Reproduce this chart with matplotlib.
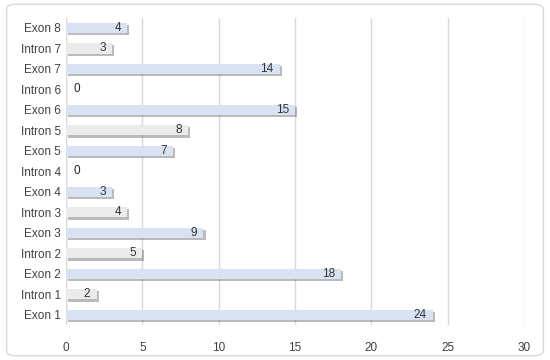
import matplotlib.pyplot as plt
import matplotlib.patheffects as pe
from matplotlib.patches import FancyBboxPatch

regions = ['Exon 1', 'Intron 1', 'Exon 2', 'Intron 2', 'Exon 3', 'Intron 3', 'Exon 4',
           'Intron 4', 'Exon 5', 'Intron 5', 'Exon 6', 'Intron 6', 'Exon 7', 'Intron 7', 'Exon 8']
counts = [24, 2, 18, 5, 9, 4, 3, 0, 7, 8, 15, 0, 14, 3, 4]

plt.rcParams['font.family'] = ['Liberation Sans', 'DejaVu Sans']

fig = plt.figure(figsize=(5.5, 3.6), dpi=100)
ax = fig.add_axes([0.12, 0.097, 0.833, 0.854])

colors = ['#d9e2f3' if r.startswith('Exon') else '#ebebeb' for r in regions]
ypos = range(len(regions))
# soft drop shadow under each bar
bars = ax.barh(ypos, counts, height=0.5, color=colors, zorder=3,
               path_effects=[pe.SimplePatchShadow(offset=(1.5, -1.5), shadow_rgbFace='#666666', alpha=0.45),
                             pe.Normal()])

for y, v in zip(ypos, counts):
    if v == 0:
        ax.text(0.5, y, str(v), va='center', ha='left', fontsize=8.5, color='#222222', zorder=4)
    else:
        ax.text(v - 0.4, y, str(v), va='center', ha='right', fontsize=8.5, color='#333333', zorder=4)

ax.set_xlim(0, 30)
ax.set_ylim(-0.5, len(regions) - 0.5)
ax.set_xticks(range(0, 31, 5))
ax.set_yticks(list(ypos))
ax.set_yticklabels(regions)
ax.tick_params(length=0, labelsize=8.5, colors='#404040')
ax.tick_params(axis='x', pad=12)
ax.grid(axis='x', color='#d9d9d9', linewidth=1, zorder=0)
ax.axvline(0, color='#d9d9d9', linewidth=1, zorder=1)
for s in ax.spines.values():
    s.set_visible(False)

fig.patches.append(FancyBboxPatch((0.012, 0.012), 0.976, 0.976, boxstyle='round,pad=0,rounding_size=0.015',
                                  transform=fig.transFigure, fill=False, edgecolor='#d9d9d9', linewidth=1))

fig.savefig('out.png', dpi=100)
